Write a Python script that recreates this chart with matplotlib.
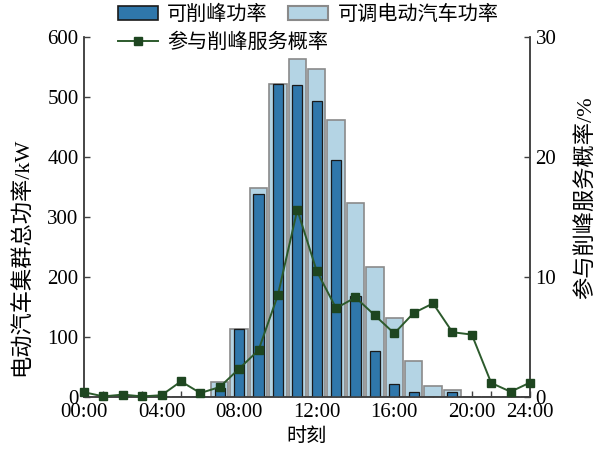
import matplotlib
matplotlib.use("Agg")
import matplotlib.pyplot as plt
from matplotlib.patches import Patch
from matplotlib.lines import Line2D

plt.rcParams['font.family'] = ['Liberation Serif', 'Noto Sans CJK SC']

# data
hours = list(range(24))
tick_pos = [0, 4, 8, 12, 16, 20, 23]
tick_labels = ["00:00", "04:00", "08:00", "12:00", "16:00", "20:00", "24:00"]

peak_power = [0, 0, 0, 0, 0, 0, 0, 15, 113, 338, 522, 520, 494, 395,
              168, 77, 22, 8, 0, 9, 0, 0, 0, 0]
ev_power = [0, 0, 0, 0, 0, 0, 0, 25, 114, 348, 522, 563, 546, 462,
            324, 216, 132, 60, 18, 12, 0, 0, 0, 0]
prob = [0.4, 0.05, 0.2, 0.05, 0.15, 1.3, 0.33, 0.83, 2.36, 3.9, 8.5, 15.6,
        10.5, 7.4, 8.3, 6.8, 5.3, 7.0, 7.8, 5.4, 5.2, 1.17, 0.44, 1.2]

dark_blue = "#2f77ab"
light_blue = "#b4d4e4"
green = "#2c5a2c"
spine_c = "#404040"

fig = plt.figure(figsize=(5.99, 4.5), dpi=100)
ax = fig.add_axes([84/599, 1-397/450, 446/599, 360/450])

ax.bar(hours, ev_power, width=0.9, color=light_blue, edgecolor="#8a8a8a", linewidth=1.2, zorder=2)
ax.bar(hours, peak_power, width=0.52, color=dark_blue, edgecolor="#1a1a1a", linewidth=0.9, zorder=3)

ax.set_xlim(0, 23)
ax.set_ylim(0, 600)
ax.set_yticks(range(0, 601, 100))
ax.set_xticks(tick_pos)
ax.set_xticklabels(tick_labels)
ax.set_xticks(hours, minor=True)

ax2 = ax.twinx()
ax2.plot(hours, prob, color=green, linewidth=1.4, marker='s', markersize=6,
         markerfacecolor="#1e4620", markeredgecolor="#1e4620", clip_on=False, zorder=5)
ax2.set_ylim(0, 30)
ax2.set_yticks([0, 10, 20, 30])

for a in (ax, ax2):
    a.spines['top'].set_visible(False)
    for s in a.spines.values():
        s.set_color(spine_c)
        s.set_linewidth(1.1)
    a.tick_params(direction='in', length=4.5, width=1, color=spine_c,
                  labelsize=15, pad=4)
    a.tick_params(which='minor', direction='in', length=4.5, width=1, color=spine_c)
ax.tick_params(axis='x', pad=4.5)

ax.set_xlabel("时刻", fontsize=14.5)
ax.xaxis.set_label_coords(0.5, -0.086)
ax.set_ylabel("电动汽车集群总功率/kW", fontsize=16)
ax.yaxis.set_label_coords(-0.114, 0.39)
ax2.set_ylabel("参与削峰服务概率/%", fontsize=16)
ax2.yaxis.set_label_coords(1.101, 0.553)

h1 = Patch(facecolor=dark_blue, edgecolor="#1a1a1a", linewidth=1.2)
h2 = Patch(facecolor=light_blue, edgecolor="#8a8a8a", linewidth=1.5)
h3 = Line2D([], [], color=green, linewidth=1.4, marker='s', markersize=6,
            markerfacecolor="#1e4620", markeredgecolor="#1e4620")

leg1 = fig.legend([h1, h2], ["可削峰功率", "可调电动汽车功率"], ncol=2,
                  loc='center left', bbox_to_anchor=(118/599, 1-15/450),
                  frameon=False, fontsize=14.5, borderpad=0, borderaxespad=0,
                  handlelength=2.0, handletextpad=0.45, columnspacing=1.0)
leg2 = fig.legend([h3], ["参与削峰服务概率"],
                  loc='center left', bbox_to_anchor=(118/599, 1-43/450),
                  frameon=False, fontsize=14.5, borderpad=0, borderaxespad=0,
                  handlelength=2.0, handletextpad=0.45)

fig.savefig("out.png", dpi=100)
